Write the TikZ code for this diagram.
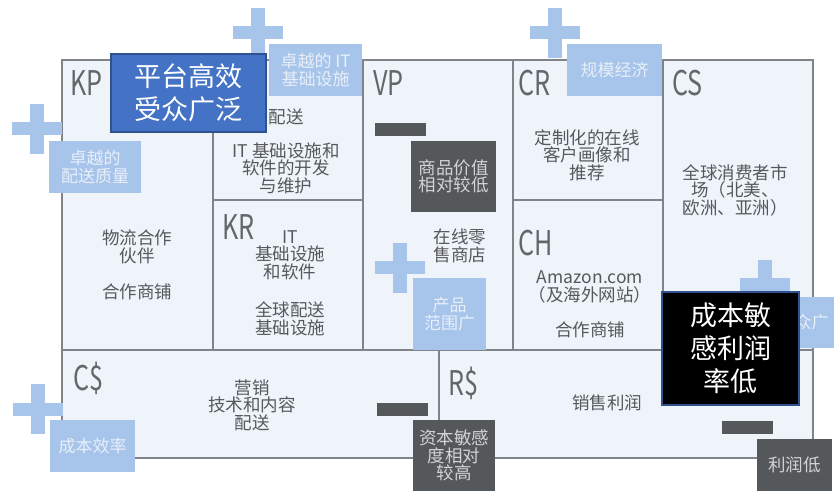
\documentclass[tikz,border=0pt]{standalone}
\usepackage{fontspec}
\setmainfont{Noto Sans CJK SC}
\newfontfamily\lblfont[FakeStretch=0.74]{Noto Sans CJK SC}
\usetikzlibrary{positioning}

\definecolor{cellfill}{HTML}{EFF3FA}
\definecolor{framegray}{HTML}{80848A}
\definecolor{plusblue}{HTML}{A7C4EA}
\definecolor{litetext}{HTML}{E8EFF9}
\definecolor{darkfill}{HTML}{54585B}
\definecolor{darktext}{HTML}{D2D3D4}
\definecolor{txtgray}{HTML}{56595C}
\definecolor{lblgray}{HTML}{63676A}
\definecolor{ovblue}{HTML}{4472C4}
\definecolor{ovborder}{HTML}{2F528F}

\tikzset{
  cell/.style={draw=framegray, line width=1.2pt, fill=cellfill, anchor=north west, inner sep=0pt, outer sep=0pt},
  lbl/.style={anchor=north west, inner sep=0pt, text=lblgray, font=\lblfont\fontsize{34}{34}\selectfont},
  txt/.style={align=center, inner sep=0pt, text=txtgray, font=\fontsize{17.5}{17.5}\selectfont},
  plush/.style={fill=plusblue, inner sep=0pt, minimum width=50pt, minimum height=13pt},
  plusv/.style={fill=plusblue, inner sep=0pt, minimum width=14pt, minimum height=50pt},
  minusbar/.style={fill=darkfill, inner sep=0pt, minimum width=51pt, minimum height=13pt},
  litebox/.style={fill=plusblue, inner sep=0pt, align=center, text=litetext, font=\fontsize{17}{18.5}\selectfont},
  darkbox/.style={fill=darkfill, inner sep=0pt, align=center, text=darktext, font=\fontsize{17.5}{17.5}\selectfont},
  overlay/.style={draw=ovborder, line width=1.6pt, inner sep=0pt, align=center, text=white, font=\fontsize{27}{33}\selectfont}
}

\begin{document}
\begin{tikzpicture}[x=1pt,y=-1pt]
\useasboundingbox[fill=white] (0,0) rectangle (836,497);

% canvas cells
\node[cell, minimum width=151pt, minimum height=290pt] (kp) at (62,60) {};
\node[cell, minimum width=150pt, minimum height=140pt] (ka) at (kp.north east) {};
\node[cell, minimum width=150pt, minimum height=150pt, below=0pt of ka] (kr) {};
\node[cell, minimum width=150pt, minimum height=290pt] (vp) at (ka.north east) {};
\node[cell, minimum width=150pt, minimum height=140pt] (cr) at (vp.north east) {};
\node[cell, minimum width=150pt, minimum height=150pt, below=0pt of cr] (ch) {};
\node[cell, minimum width=150pt, minimum height=290pt] (cs) at (cr.north east) {};
\node[cell, minimum width=377pt, minimum height=108pt] (cost) at (kp.south west) {};
\node[cell, minimum width=374pt, minimum height=108pt] (rev) at (cost.north east) {};

% block labels
\node[lbl] (kplbl) at (70,70) {KP};
\node[lbl] (krlbl) at (222,214) {KR};
\node[lbl] (vplbl) at (373,70) {VP};
\node[lbl] (crlbl) at (518,70) {CR};
\node[lbl] (chlbl) at (518,230) {CH};
\node[lbl] (cslbl) at (672,70) {CS};
\node[lbl] (costlbl) at (73,362) {C\$};
\node[lbl] (revlbl) at (448,367) {R\$};

% block texts
\node[txt] (kp1) at (137,247) {物流合作\\伙伴};
\node[txt] (kp2) at (137,292) {合作商铺};
\node[txt] (ka1) at (286,117) {配送};
\node[txt] (ka2) at (286,168) {IT 基础设施和\\软件的开发\\与维护};
\node[txt] (kr1) at (290,255) {IT\\基础设施\\和软件};
\node[txt] (kr2) at (290,319) {全球配送\\基础设施};
\node[txt] (vp1) at (460,246) {在线零\\售商店};
\node[txt] (cr1) at (587,155) {定制化的在线\\客户画像和\\推荐};
\node[txt] (ch1) at (590,287) {Amazon.com\\（及海外网站）};
\node[txt] (ch2) at (590,330) {合作商铺};
\node[txt] (cs1) at (735,190) {全球消费者市\\场（北美、\\欧洲、亚洲）};
\node[txt] (cost1) at (252,405) {营销\\技术和内容\\配送};
\node[txt] (rev1) at (607,403) {销售利润};

% plus and minus marks
\foreach \px/\py [count=\i] in {37/129, 258/33, 555/33, 400/268, 765/285, 38/409}{
  \node[plush] (plush\i) at (\px,\py) {};
  \node[plusv] (plusv\i) at (\px,\py) {};
}
\node[minusbar] (minus1) at (400.5,129.5) {};
\node[minusbar] (minus2) at (402,409) {};
\node[minusbar] (minus3) at (747,427) {};

% strengths
\node[litebox, minimum width=92pt, minimum height=52pt] (quality) at (95,167) {卓越的\\配送质量};
\node[litebox, minimum width=93pt, minimum height=52pt] (itinfra) at (315.5,70) {卓越的 IT\\基础设施};
\node[litebox, minimum width=95pt, minimum height=52pt] (scale) at (614.5,70) {规模经济};
\node[litebox, minimum width=73pt, minimum height=72pt] (range) at (449.5,314) {产品\\范围广};
\node[litebox, minimum width=85pt, minimum height=52pt] (costeff) at (92.5,446) {成本效率};
\node[litebox, minimum width=62pt, minimum height=51pt] (audience) at (803,322.5) {受众广};

% weaknesses
\node[darkbox, minimum width=85pt, minimum height=71pt] (value) at (453.5,176.5) {商品价值\\相对较低};
\node[darkbox, minimum width=82pt, minimum height=71pt] (capital) at (454,455.5) {资本敏感\\度相对\\较高};
\node[darkbox, minimum width=75pt, minimum height=52pt] (lowprofit) at (794.5,465) {利润低};

% callouts
\node[overlay, fill=ovblue, minimum width=155pt, minimum height=78pt] (platform) at (188.5,93) {平台高效\\受众广泛};
\node[overlay, fill=black, minimum width=137pt, minimum height=113pt] (margin) at (730.5,348.5) {成本敏\\感利润\\率低};

\end{tikzpicture}
\end{document}
